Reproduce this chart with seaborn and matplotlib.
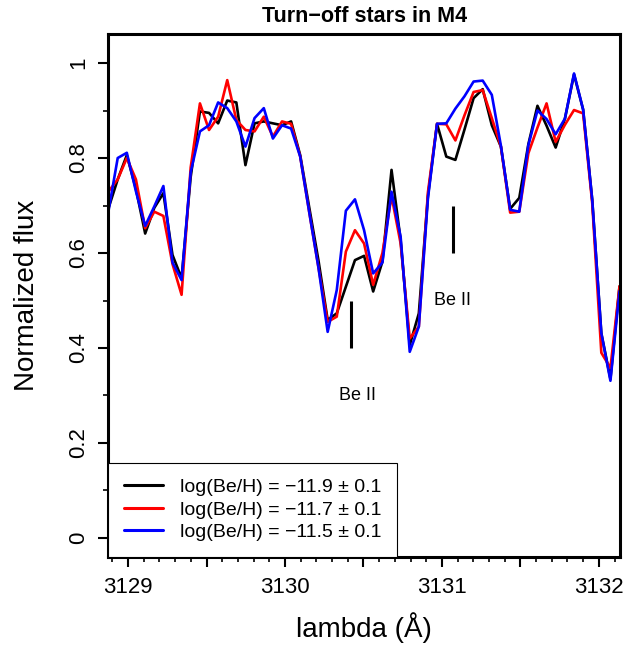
import numpy as np
import pandas as pd
import matplotlib
matplotlib.use("Agg")
import matplotlib.pyplot as plt
import seaborn as sns
from matplotlib.lines import Line2D
from matplotlib.ticker import MultipleLocator, FuncFormatter

# ---- données ----
wavelength = [3128.876, 3128.934, 3128.992, 3129.050, 3129.109, 3129.167, 3129.225,
              3129.283, 3129.341, 3129.399, 3129.458, 3129.516, 3129.574, 3129.632,
              3129.690, 3129.748, 3129.806, 3129.865, 3129.923, 3129.981, 3130.039,
              3130.097, 3130.155, 3130.213, 3130.272, 3130.330, 3130.388, 3130.446,
              3130.504, 3130.562, 3130.621, 3130.679, 3130.737, 3130.795, 3130.853,
              3130.911, 3130.969, 3131.028, 3131.086, 3131.144, 3131.202, 3131.260,
              3131.318, 3131.376, 3131.435, 3131.493, 3131.551, 3131.609, 3131.667,
              3131.725, 3131.784, 3131.842, 3131.900, 3131.958, 3132.016, 3132.074,
              3132.132]

flux_119 = [0.695, 0.755, 0.806, 0.735, 0.641, 0.695, 0.726, 0.596, 0.547, 0.760,
            0.898, 0.895, 0.873, 0.921, 0.917, 0.785, 0.873, 0.877, 0.873, 0.869,
            0.877, 0.806, 0.695, 0.585, 0.459, 0.473, 0.529, 0.585, 0.594, 0.519,
            0.582, 0.775, 0.627, 0.406, 0.473, 0.720, 0.872, 0.803, 0.796, 0.860,
            0.926, 0.945, 0.869, 0.824, 0.693, 0.716, 0.829, 0.910, 0.868, 0.822,
            0.883, 0.976, 0.902, 0.712, 0.431, 0.335, 0.530]

flux_117 = [0.730, 0.755, 0.800, 0.755, 0.652, 0.687, 0.678, 0.577, 0.512, 0.780,
            0.915, 0.859, 0.887, 0.964, 0.880, 0.859, 0.856, 0.887, 0.845, 0.877,
            0.872, 0.803, 0.685, 0.570, 0.455, 0.466, 0.603, 0.648, 0.620, 0.533,
            0.600, 0.720, 0.620, 0.420, 0.445, 0.728, 0.872, 0.871, 0.837, 0.890,
            0.939, 0.943, 0.884, 0.824, 0.685, 0.687, 0.810, 0.864, 0.915, 0.834,
            0.870, 0.901, 0.894, 0.705, 0.390, 0.358, 0.530]

flux_115 = [0.690, 0.800, 0.811, 0.730, 0.657, 0.698, 0.741, 0.580, 0.543, 0.770,
            0.856, 0.869, 0.917, 0.905, 0.877, 0.824, 0.884, 0.905, 0.841, 0.869,
            0.862, 0.803, 0.685, 0.570, 0.434, 0.522, 0.689, 0.713, 0.648, 0.557,
            0.580, 0.729, 0.634, 0.392, 0.445, 0.715, 0.872, 0.873, 0.904, 0.930,
            0.961, 0.963, 0.933, 0.826, 0.691, 0.687, 0.827, 0.900, 0.882, 0.850,
            0.883, 0.978, 0.902, 0.712, 0.431, 0.331, 0.520]

labels = ["log(Be/H) = \u221211.9 \u00b1 0.1",
          "log(Be/H) = \u221211.7 \u00b1 0.1",
          "log(Be/H) = \u221211.5 \u00b1 0.1"]
colors = ["#000000", "#FF0000", "#0000FF"]

be_lines = [3130.42, 3131.07]
be_lo = [0.40, 0.60]
be_hi = [0.50, 0.70]

# tableau long pour seaborn
df = pd.concat([
    pd.DataFrame({"lambda": wavelength, "flux": f, "modele": lab})
    for f, lab in zip([flux_119, flux_117, flux_115], labels)
], ignore_index=True)

sns.set_style("white")
plt.rcParams['font.family'] = ['Liberation Sans', 'DejaVu Sans']
plt.rcParams['axes.unicode_minus'] = True
plt.rcParams['text.color'] = 'black'
plt.rcParams['axes.labelcolor'] = 'black'
plt.rcParams['xtick.color'] = 'black'
plt.rcParams['ytick.color'] = 'black'

fig = plt.figure(figsize=(6.28, 6.5), dpi=100)
ax = fig.add_axes([108.3 / 628, 1 - 556.7 / 650, (620 - 108.3) / 628, (556.7 - 34) / 650])

sns.lineplot(data=df, x="lambda", y="flux", hue="modele", palette=colors,
             estimator=None, sort=False, linewidth=1.9, legend=False, ax=ax)

# raies Be II
for xl, lo, hi in zip(be_lines, be_lo, be_hi):
    ax.plot([xl, xl], [lo, hi], color="black", linewidth=2.2, solid_capstyle="butt")
ax.text(3130.46, 0.30, "Be II", fontsize=13, ha="center", va="center", color="black")
ax.text(3131.07, 0.50, "Be II", fontsize=13, ha="center", va="center", color="black")

ax.set_xlim(3128.874, 3132.135)
ax.set_ylim(-0.0394, 1.0611)

# axes façon R
for s in ax.spines.values():
    s.set_linewidth(2.2)
    s.set_color("black")
ax.xaxis.set_major_locator(MultipleLocator(0.5))
ax.xaxis.set_minor_locator(MultipleLocator(0.1))
ax.xaxis.set_major_formatter(FuncFormatter(lambda v, p: f"{v:.0f}" if abs(v - round(v)) < 1e-6 else ""))
ax.yaxis.set_major_locator(MultipleLocator(0.2))
ax.yaxis.set_minor_locator(MultipleLocator(0.1))
ax.yaxis.set_major_formatter(FuncFormatter(lambda v, p: f"{v:g}" if abs(v) > 1e-9 else "0"))
ax.tick_params(which="major", direction="out", length=7.5, width=1.5, labelsize=16,
               color="black", labelcolor="black")
ax.tick_params(which="minor", direction="out", length=3.5, width=1.2, color="black")
ax.tick_params(axis="x", which="both", bottom=True, pad=7)
ax.tick_params(axis="y", which="both", left=True, pad=6)
for lbl in ax.get_yticklabels():
    lbl.set_rotation(90)
    lbl.set_va("center")

ax.set_xlabel("lambda (\u00c5)", fontsize=20, va="center", color="black")
ax.xaxis.set_label_coords(0.5, -0.1364)
ax.set_ylabel("Normalized flux", fontsize=20, va="center", color="black")
ax.yaxis.set_label_coords(-0.1589, 0.5)
ax.set_title("Turn\u2212off stars in M4", fontsize=15.5, fontweight="bold", pad=9, color="black")

handles = [Line2D([0], [0], color=c, linewidth=2.2) for c in colors]
leg = ax.legend(handles, labels, loc="lower left", bbox_to_anchor=(0, 0),
                borderaxespad=0, fancybox=False, edgecolor="black", framealpha=1,
                fontsize=14, handlelength=2.0, handletextpad=0.9, borderpad=0.8,
                labelspacing=0.25)
leg.get_frame().set_linewidth(0.8)
for t in leg.get_texts():
    t.set_color("black")

fig.savefig("out.png", dpi=100)
